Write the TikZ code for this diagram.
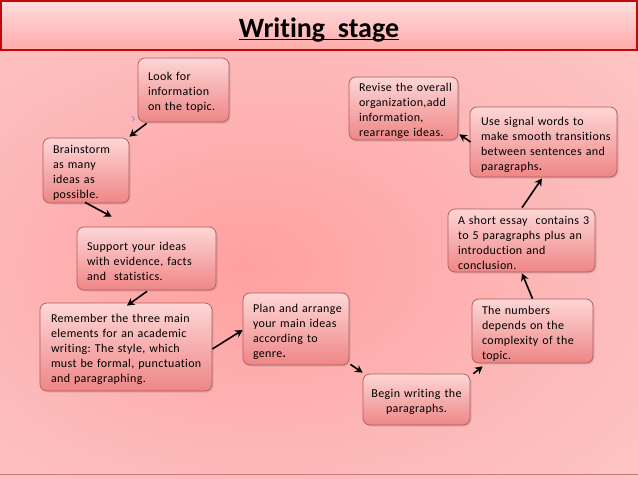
\documentclass[tikz,border=0pt]{standalone}
\usepackage{fontspec}
\setmainfont{Carlito}[Ligatures=NoCommon]
\newfontfamily\boxfont{Carlito}[Ligatures=NoCommon, LetterSpace=3]
\usetikzlibrary{arrows.meta,shadows}
\frenchspacing
\definecolor{bgin}{RGB}{255,160,160}
\definecolor{bgmid}{RGB}{253,186,186}
\definecolor{bgout}{RGB}{253,226,226}
\definecolor{titletop}{RGB}{255,222,222}
\definecolor{titlebot}{RGB}{255,170,170}
\definecolor{framered}{RGB}{192,10,10}
\definecolor{boxtop}{RGB}{254,214,214}
\definecolor{boxbot}{RGB}{238,134,134}
\definecolor{boxborder}{RGB}{180,90,90}
\pgfdeclareradialshading{bgshade}{\pgfpoint{-6bp}{0bp}}{color(0bp)=(bgin); color(25bp)=(bgmid); color(75bp)=(bgout)}
\tikzset{
  x=1pt, y=-1pt,
  box/.style={draw=boxborder, line width=0.7pt, rounded corners=7pt,
    top color=boxtop, bottom color=boxbot, inner xsep=10pt, inner ysep=2pt,
    align=left, text=black, font=\boxfont\fontsize{12}{15}\selectfont\frenchspacing,
    execute at begin node={\rightskip=-30pt plus 1fil\hyphenpenalty=10000},
    execute at end node={\par\kern-5pt},
    drop shadow={shadow xshift=1.5pt, shadow yshift=-1.5pt, opacity=0.25}},
  sz/.style 2 args={text width=#1, minimum height=#2},
  arr/.style={line width=1.6pt, draw=black, -{Stealth[length=7.5pt,width=8pt]}}
}
\begin{document}
\begin{tikzpicture}
\useasboundingbox (0,0) rectangle (638,479);
% body background
\shade[shading=bgshade] (0,50) rectangle (638,479);
\draw[draw={rgb,255:red,200;green,120;blue,120}, line width=0.8pt] (0,474) -- (638,474);
% title bar
\shade[top color=titletop, bottom color=titlebot] (0,0) rectangle (638,50);
\draw[framered, line width=2.2pt] (1,50) -- (1,1) -- (637,1) -- (637,50);
\draw[framered, line width=1.4pt] (0,50) -- (638,50);
\node[anchor=base, font=\bfseries\fontsize{28}{32}\selectfont, inner sep=0pt] (title) at (319,37) {Writing\ \ stage};
\draw[line width=1.5pt] ([shift={(0,2.6)}]title.base west) -- ([shift={(0,2.6)}]title.base east);

% boxes
\node[box, sz={71pt}{64pt}] (lk) at (183.5,90) {Look for\\information\\on the topic.};
\node[box, sz={66pt}{65pt}] (bs) at (86,170.5) {Brainstorm\\as many\\ideas as\\possible.};
\node[box, sz={119pt}{63pt}] (sp) at (146.5,258.5) {Support your ideas\\with evidence, facts\\and\ \ statistics.};
\node[box, sz={150pt}{88pt}, inner xsep=11pt] (rm) at (126,347) {Remember the three main\\elements for an academic\\writing: The style, which\\must be formal, punctuation\\and paragraphing.};
\node[box, sz={86pt}{72pt}] (pl) at (296,329) {Plan and arrange\\your main ideas\\according to\\genre{\fontsize{15}{15}\selectfont.}};
\node[box, sz={97pt}{51pt}, inner xsep=5pt, execute at begin node={\leftskip=0pt plus 1fil\rightskip=0pt plus 1fil\parfillskip=0pt}] (bg) at (416.5,399.5) {Begin writing the\\paragraphs.};
\node[box, sz={101pt}{64pt}] (nm) at (532.5,331) {The numbers\\depends on the\\complexity of the\\topic.};
\node[box, sz={127pt}{63pt}] (se) at (521.5,240.5) {A short essay\ \ contains 3\\to 5 paragraphs plus an\\introduction and\\conclusion.};
\node[box, sz={125pt}{70pt}, inner xsep=11pt] (us) at (543.5,142) {Use signal words to\\make smooth transitions\\between sentences and\\paragraphs{\fontsize{15}{15}\selectfont.}};
\node[box, sz={89pt}{63pt}] (rv) at (403.5,108.5) {Revise the overall\\organization,add\\information,\\rearrange ideas.};

% stray blue mark
\draw[draw={rgb,255:red,110;green,120;blue,220}, line width=0.6pt] (131.5,116.5) .. controls (134.5,117) and (135.5,119.5) .. (132.5,120.5);

% arrows
\draw[arr] ([shift={(9,1)}]lk.south west) -- ([shift={(0,-1)}]bs.north east);
\draw[arr] ([shift={(-1,-1)}]bs.south) -- ([shift={(35,-10)}]sp.north west);
\draw[arr] ([shift={(0.5,1)}]sp.south) -- ([shift={(1,3)}]rm.north);
\draw[arr] ([shift={(0,2)}]rm.east) -- ([shift={(0,1)}]pl.west);
\draw[arr] ([shift={(1,-1)}]pl.south east) -- ([shift={(0,-1)}]bg.north west);
\draw[arr] ([shift={(3,0)}]bg.north east) -- ([shift={(11,3)}]nm.south west);
\draw[arr] (nm.north) -- ([shift={(0.5,1)}]se.south);
\draw[arr] ([shift={(0.5,-1)}]se.north) -- ([shift={(-1.5,1)}]us.south);
\draw[arr] ([shift={(1,0)}]us.west) -- ([shift={(1,-6)}]rv.south east);
\end{tikzpicture}
\end{document}
